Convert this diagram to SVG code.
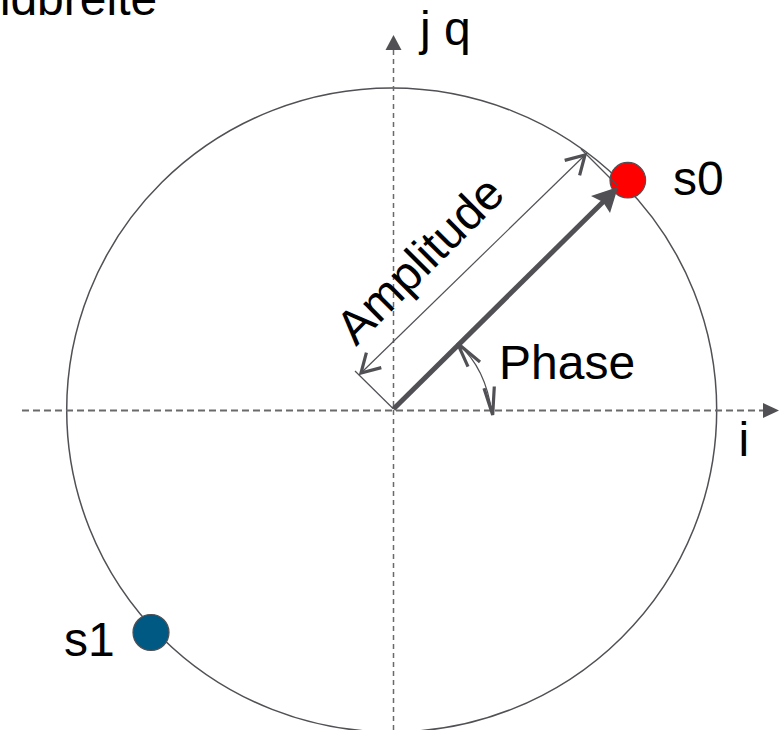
<svg xmlns="http://www.w3.org/2000/svg" width="779" height="730" viewBox="0 0 779 730">
<style>
.t{font-family:"Liberation Sans",Arial,sans-serif;font-size:48px;fill:#000}
.ln{stroke:#505055;fill:none}
.axis{stroke:#6a6a6a;fill:none}
.chev{stroke:#505055;stroke-width:3.2;fill:none;stroke-linejoin:miter}
</style>
<rect width="779" height="730" fill="#fff"/>
<text class="t" x="-75" y="15">Bandbreite</text>
<g id="circle">
<ellipse class="ln" cx="391.7" cy="410" rx="325" ry="322" stroke-width="1.5"/>
</g>
<g id="axes">
<line class="axis" x1="22" y1="410.5" x2="763" y2="410.5" stroke-width="2" stroke-dasharray="7 4"/>
<polygon points="763,403 779,410.5 763,418" fill="#505055"/>
<line class="axis" x1="393.5" y1="730" x2="393.5" y2="50" stroke-width="1.5" stroke-dasharray="5 4"/>
<polygon points="385.5,50 393.5,35 401.5,50" fill="#505055"/>
<text class="t" x="420" y="45">j q</text>
<text class="t" x="738.5" y="456">i</text>
</g>
<g id="s1">
<circle cx="151" cy="632.5" r="18" fill="#005983" stroke="#505055" stroke-width="1.2"/>
<text class="t" x="64" y="656">s1</text>
</g>
<g id="s0">
<circle cx="627.8" cy="180.2" r="17.8" fill="#ff0000" stroke="#505055" stroke-width="1.2"/>
<text class="t" x="673" y="195">s0</text>
</g>
<g id="connectors">
<g id="vector">
<line class="ln" x1="393.5" y1="409" x2="604" y2="201" stroke-width="5"/>
<polygon points="618,187 591,196 603,202 610,213" fill="#505055"/>
</g>
<g id="amplitude">
<line class="ln" x1="393.5" y1="409" x2="355" y2="371" stroke-width="1.2"/>
<line class="ln" x1="618" y1="186" x2="581" y2="149" stroke-width="1.2"/>
<line class="ln" x1="361" y1="373" x2="585" y2="155" stroke-width="1.2"/>
<polyline class="chev" points="381.3,367.6 361,373 366.4,352.7"/>
<polyline class="chev" points="564.7,160.4 585,155 579.6,175.3"/>
<text class="t" x="356" y="347" transform="rotate(-45 356 347)">Amplitude</text>
</g>
<g id="phase">
<path class="ln" d="M458 344 Q486 368 492 414" stroke-width="1.2"/>
<polyline class="chev" points="468,366.7 457.5,343.3 480,362"/>
<polyline class="chev" points="484,388.3 492.7,415 494.3,386.5"/>
<text class="t" x="499" y="379">Phase</text>
</g>
</g>
</svg>
